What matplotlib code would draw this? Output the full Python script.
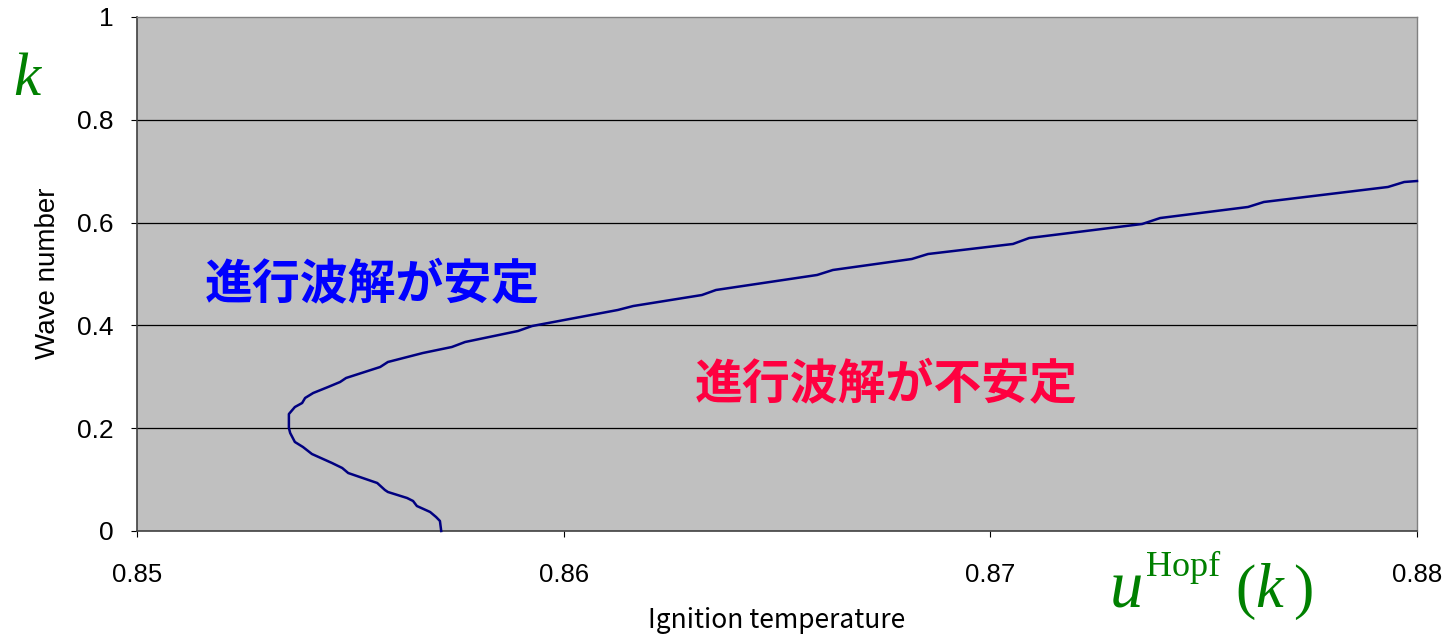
import matplotlib
matplotlib.use("Agg")
import matplotlib.pyplot as plt

# Data (ignition temperature u vs wave number k)
u_hopf = [0.85713, 0.85710, 0.85701, 0.85687, 0.85656, 0.85647, 0.85633, 0.85588,
          0.85581, 0.85563, 0.85495, 0.85481, 0.85457, 0.85410, 0.85389, 0.85370,
          0.85359, 0.85356, 0.85356, 0.85370, 0.85387, 0.85394, 0.85413, 0.85448,
          0.85476, 0.85490, 0.85570, 0.85588, 0.85670, 0.85738, 0.85769, 0.85893,
          0.85926, 0.86127, 0.86163, 0.86324, 0.86357, 0.86594, 0.86631, 0.86816,
          0.86854, 0.87053, 0.87091, 0.87356, 0.87398, 0.87604, 0.87641, 0.87932,
          0.87970, 0.88000]
k_vals = [0.000, 0.0195, 0.0272, 0.0370, 0.0486, 0.0584, 0.0642, 0.0759,
          0.0798, 0.0934, 0.1128, 0.1226, 0.1323, 0.1498, 0.1634, 0.1732,
          0.1907, 0.2004, 0.2276, 0.2412, 0.2490, 0.2588, 0.2685, 0.2802,
          0.2899, 0.2977, 0.3191, 0.3288, 0.3463, 0.3580, 0.3677, 0.3891,
          0.3988, 0.4300, 0.4377, 0.4591, 0.4689, 0.4981, 0.5078, 0.5292,
          0.5389, 0.5584, 0.5700, 0.5973, 0.6089, 0.6304, 0.6401, 0.6693,
          0.6790, 0.6809]
x_ticks = [0.85, 0.86, 0.87, 0.88]
x_tick_labels = ["0.85", "0.86", "0.87", "0.88"]
y_ticks = [0, 0.2, 0.4, 0.6, 0.8, 1.0]
y_tick_labels = ["0", "0.2", "0.4", "0.6", "0.8", "1"]

W, H = 1446, 636
fig = plt.figure(figsize=(W / 100, H / 100), dpi=100)
fig.patch.set_facecolor("white")
ax = fig.add_axes([137 / W, 1 - 531 / H, (1417 - 137) / W, (531 - 17) / H])
ax.set_facecolor("#c0c0c0")

for yv in y_ticks[1:-1]:
    ax.axhline(yv, color="black", lw=0.9, zorder=1)

ax.plot(u_hopf, k_vals, color="#000080", lw=1.8, zorder=3, clip_on=False)

ax.set_xlim(0.85, 0.88)
ax.set_ylim(0, 1)
ax.set_xticks(x_ticks)
ax.set_xticklabels(x_tick_labels, fontsize=18.5, family="Liberation Sans")
ax.set_yticks(y_ticks)
ax.set_yticklabels(y_tick_labels, fontsize=19, family="Liberation Sans")
ax.tick_params(axis="x", length=4, pad=19, direction="out")
ax.tick_params(axis="y", length=4, pad=13, direction="out")

for s in ["left", "bottom"]:
    ax.spines[s].set_color("#404040")
    ax.spines[s].set_linewidth(1.2)
for s in ["top", "right"]:
    ax.spines[s].set_color("#808080")
    ax.spines[s].set_linewidth(1.0)

jp = ["Noto Sans CJK JP", "DejaVu Sans"]

def ptxt(x, y, s, **kw):
    fig.text(x / W, 1 - y / H, s, **kw)

ptxt(777, 628, "Ignition temperature", fontsize=19, family=jp,
     ha="center", va="baseline")
ptxt(48, 273, "Wave number", fontsize=20, family="Liberation Sans",
     rotation=90, ha="center", va="center")

ax.text(0.85551, 0.480, "進行波解が安定", color="#0000ff", fontsize=34.5,
        fontweight="bold", family=jp, ha="center", va="center")
ax.text(0.86755, 0.285, "進行波解が不安定", color="#ff0040", fontsize=34.5,
        fontweight="bold", family=jp, ha="center", va="center")

green = "#008000"
ptxt(13, 95, "k", color=green, fontsize=44, family="Liberation Serif",
     style="italic", va="baseline")
ptxt(1110, 607, "u", color=green, fontsize=48, family="Liberation Serif",
     style="italic", va="baseline")
ptxt(1146, 576, "Hopf", color=green, fontsize=26, family="Liberation Serif",
     va="baseline")
ptxt(1235, 607, "(", color=green, fontsize=44, family="Liberation Serif",
     va="baseline")
ptxt(1255, 607, "k", color=green, fontsize=45, family="Liberation Serif",
     style="italic", va="baseline")
ptxt(1293, 607, ")", color=green, fontsize=44, family="Liberation Serif",
     va="baseline")

fig.savefig("out.png", dpi=100)
